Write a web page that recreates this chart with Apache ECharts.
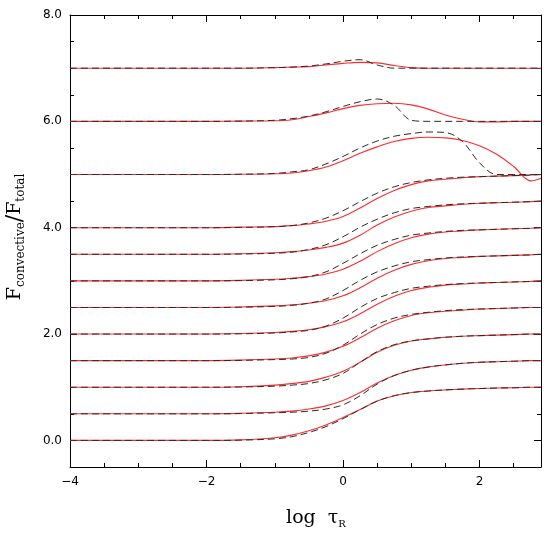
<!DOCTYPE html>
<html>
<head>
<meta charset="utf-8">
<script src="https://cdn.jsdelivr.net/npm/echarts@6/dist/echarts.min.js"></script>
<style>
  html, body { margin: 0; padding: 0; background: #fff; }
  #chart { width: 554px; height: 554px; }
</style>
</head>
<body>
<div id="chart"></div>
<script>
  // log tau_R grid shared by all curves
  var logTau = [-4, -2, -1.5, -1, -0.75, -0.5, -0.25, 0, 0.25, 0.5, 0.75, 1, 1.25, 1.5, 1.75, 2, 2.25, 2.5, 2.75, 2.9]

  // vertical shift of each model curve
  var offsets = [0, 0.5, 1.0, 1.5, 2.0, 2.5, 3.0, 3.5, 4.0, 5.0, 6.0, 7.0]

  // F_conv/F_tot, red solid curves
  var red00 = [0, 0, 0.01, 0.05, 0.10, 0.18, 0.29, 0.43, 0.58, 0.74, 0.84, 0.90, 0.93, 0.95, 0.965, 0.975, 0.985, 0.99, 1.0, 1.0]
  var red05 = [0, 0, 0.01, 0.03, 0.05, 0.09, 0.15, 0.25, 0.40, 0.58, 0.72, 0.82, 0.88, 0.92, 0.95, 0.97, 0.98, 0.99, 1.0, 1.0]
  var red10 = [0, 0, 0.01, 0.04, 0.07, 0.11, 0.19, 0.30, 0.47, 0.66, 0.79, 0.87, 0.91, 0.94, 0.96, 0.97, 0.98, 0.99, 1.0, 1.0]
  var red15 = [0, 0, 0.01, 0.03, 0.05, 0.09, 0.16, 0.27, 0.43, 0.61, 0.75, 0.85, 0.90, 0.93, 0.95, 0.97, 0.98, 0.99, 1.0, 1.0]
  var red20 = [0, 0, 0.01, 0.03, 0.05, 0.08, 0.14, 0.23, 0.38, 0.56, 0.71, 0.82, 0.88, 0.92, 0.94, 0.96, 0.97, 0.98, 0.99, 1.0]
  var red25 = [0, 0, 0.01, 0.03, 0.05, 0.08, 0.13, 0.22, 0.37, 0.55, 0.70, 0.81, 0.88, 0.92, 0.94, 0.96, 0.97, 0.98, 0.99, 1.0]
  var red30 = [0, 0, 0.01, 0.03, 0.05, 0.08, 0.13, 0.22, 0.37, 0.55, 0.70, 0.81, 0.88, 0.92, 0.94, 0.96, 0.97, 0.98, 0.99, 1.0]
  var red35 = [0, 0, 0.01, 0.03, 0.05, 0.08, 0.13, 0.21, 0.36, 0.55, 0.70, 0.81, 0.88, 0.91, 0.94, 0.96, 0.97, 0.98, 0.99, 1.0]
  var red40 = [0, 0, 0.01, 0.02, 0.04, 0.07, 0.12, 0.21, 0.37, 0.55, 0.70, 0.81, 0.88, 0.91, 0.94, 0.96, 0.97, 0.98, 0.99, 1.0]
  var red50 = [0, 0, 0.005, 0.015, 0.03, 0.07, 0.14, 0.26, 0.40, 0.52, 0.62, 0.68, 0.70, 0.69, 0.64, 0.54, 0.38, 0.15, -0.12, -0.07]
  var red60 = [0, 0, 0.005, 0.01, 0.03, 0.09, 0.16, 0.24, 0.30, 0.33, 0.34, 0.31, 0.23, 0.12, 0.04, -0.01, -0.01, 0, 0, 0]
  var red70 = [0, 0, 0, 0.01, 0.02, 0.03, 0.06, 0.09, 0.11, 0.10, 0.05, 0.01, 0, 0, 0, 0, 0, 0, 0, 0]

  // black dashed curves
  var dash00 = [0, 0, 0.005, 0.03, 0.07, 0.15, 0.26, 0.41, 0.58, 0.74, 0.84, 0.90, 0.93, 0.95, 0.965, 0.975, 0.985, 0.99, 1.0, 1.0]
  var dash05 = [0, 0, 0.005, 0.02, 0.03, 0.05, 0.09, 0.17, 0.34, 0.56, 0.72, 0.82, 0.88, 0.92, 0.95, 0.97, 0.98, 0.99, 1.0, 1.0]
  var dash10 = [0, 0, 0.005, 0.02, 0.04, 0.07, 0.14, 0.26, 0.47, 0.67, 0.80, 0.87, 0.91, 0.94, 0.96, 0.97, 0.98, 0.99, 1.0, 1.0]
  var dash15 = [0, 0, 0.005, 0.02, 0.03, 0.06, 0.14, 0.29, 0.50, 0.68, 0.80, 0.87, 0.91, 0.94, 0.96, 0.97, 0.98, 0.99, 1.0, 1.0]
  var dash20 = [0, 0, 0.005, 0.02, 0.04, 0.07, 0.15, 0.30, 0.50, 0.67, 0.78, 0.86, 0.90, 0.93, 0.95, 0.96, 0.97, 0.98, 0.99, 1.0]
  var dash25 = [0, 0, 0.005, 0.02, 0.04, 0.08, 0.16, 0.32, 0.51, 0.67, 0.78, 0.86, 0.90, 0.93, 0.95, 0.96, 0.97, 0.98, 0.99, 1.0]
  var dash30 = [0, 0, 0.005, 0.02, 0.04, 0.08, 0.17, 0.33, 0.51, 0.67, 0.78, 0.86, 0.90, 0.93, 0.95, 0.96, 0.97, 0.98, 0.99, 1.0]
  var dash35 = [0, 0, 0.005, 0.02, 0.04, 0.09, 0.18, 0.33, 0.51, 0.66, 0.78, 0.86, 0.90, 0.93, 0.95, 0.96, 0.97, 0.98, 0.99, 1.0]
  var dash40 = [0, 0, 0.005, 0.02, 0.04, 0.09, 0.18, 0.32, 0.49, 0.65, 0.77, 0.85, 0.90, 0.93, 0.95, 0.96, 0.97, 0.98, 0.99, 1.0]
  var dash50 = [0, 0, 0.005, 0.02, 0.05, 0.09, 0.20, 0.34, 0.50, 0.63, 0.72, 0.77, 0.80, 0.79, 0.62, 0.22, 0, 0, 0, 0]
  var dash60 = [0, 0, 0.005, 0.02, 0.05, 0.10, 0.18, 0.28, 0.37, 0.42, 0.30, 0.02, 0, 0, 0, 0, 0, 0, 0, 0]
  var dash70 = [0, 0, 0, 0.01, 0.02, 0.04, 0.08, 0.13, 0.16, 0.06, 0, 0, 0, 0, 0, 0, 0, 0, 0, 0]

  var redCurves = [red00, red05, red10, red15, red20, red25, red30, red35, red40, red50, red60, red70]
  var dashCurves = [dash00, dash05, dash10, dash15, dash20, dash25, dash30, dash35, dash40, dash50, dash60, dash70]

  var tickFont = "DejaVu Sans"
  var serif = "DejaVu Serif"

  function shifted(vals, off) {
    return logTau.map(function (x, i) {
      return [x, off + vals[i]]
    })
  }

  var series = []
  offsets.forEach(function (off, k) {
    series.push({
      type: "line",
      data: shifted(redCurves[k], off),
      symbol: "none",
      smooth: 0.35,
      silent: true,
      z: 2,
      lineStyle: {color: "#ff2b2b", width: 1.1}
    })
  })
  offsets.forEach(function (off, k) {
    series.push({
      type: "line",
      data: shifted(dashCurves[k], off),
      symbol: "none",
      smooth: 0.35,
      silent: true,
      z: 3,
      lineStyle: {color: "#2a2a2a", width: 1, type: [7, 4]}
    })
  })

  var axisLine = {show: true, onZero: false, lineStyle: {color: "#000", width: 1}}
  var noLine = {show: false, onZero: false}

  function xAx(pos, interval, len, labels, line) {
    return {
      type: "value",
      position: pos,
      min: -4,
      max: 2.9,
      interval: interval,
      splitLine: {show: false},
      axisLine: line ? axisLine : noLine,
      axisTick: {show: true, inside: true, length: len, lineStyle: {color: "#000"}},
      axisLabel: {
        show: labels,
        showMaxLabel: false,
        margin: 9,
        fontFamily: tickFont,
        fontSize: 12,
        color: "#000",
        formatter: function (v) {
          if (Math.abs(v % 2) > 1e-6) return ""
          return v < 0 ? "\u2212" + Math.abs(v) : String(v)
        }
      }
    }
  }

  function yAx(pos, labels) {
    return {
      type: "value",
      position: pos,
      min: -0.5,
      max: 8,
      interval: 0.5,
      splitLine: {show: false},
      axisLine: axisLine,
      axisTick: {show: true, inside: true, length: 4, lineStyle: {color: "#000"}},
      axisLabel: {
        show: labels,
        margin: 8,
        fontFamily: tickFont,
        fontSize: 12,
        color: "#000",
        formatter: function (v) {
          if (Math.abs(v % 2) > 1e-6) return ""
          return v.toFixed(1)
        }
      }
    }
  }

  // long ticks at 8, 6, 4, 2, 0 (inverse axis so ticks count from the top)
  function yMajor(pos) {
    return {
      type: "value",
      position: pos,
      inverse: true,
      min: 0,
      max: 8.5,
      interval: 2,
      splitLine: {show: false},
      axisLine: noLine,
      axisLabel: {show: false},
      axisTick: {show: true, inside: true, length: 7, lineStyle: {color: "#000"}}
    }
  }

  var chart = echarts.init(document.getElementById("chart"))
  chart.setOption({
    animation: false,
    backgroundColor: "#fff",
    grid: {left: 70, top: 15, right: 13, bottom: 87},
    xAxis: [
      xAx("bottom", 0.5, 4, true, true),
      xAx("bottom", 2, 7, false, false),
      xAx("top", 0.5, 4, false, true),
      xAx("top", 2, 7, false, false)
    ],
    yAxis: [yAx("left", true), yMajor("left"), yAx("right", false), yMajor("right")],
    series: series,
    graphic: [
      {
        type: "text",
        x: 15,
        y: 237,
        rotation: Math.PI / 2,
        style: {
          text: "{F|F}{s|convective}{sl|/}{F|F}{s|total}",
          align: "center",
          verticalAlign: "middle",
          fill: "#000",
          rich: {
            F: {fontFamily: serif, fontSize: 19, lineHeight: 24, fill: "#000"},
            sl: {fontFamily: serif, fontSize: 22, lineHeight: 24, fill: "#000"},
            s: {fontFamily: serif, fontSize: 12, lineHeight: 12, verticalAlign: "bottom", fill: "#000"}
          }
        }
      },
      {
        type: "text",
        x: 316,
        y: 518,
        style: {
          text: "{t|log  \u03c4}{s|R}",
          align: "center",
          verticalAlign: "middle",
          fill: "#000",
          rich: {
            t: {fontFamily: serif, fontSize: 19, lineHeight: 22, fill: "#000"},
            s: {fontFamily: serif, fontSize: 10, lineHeight: 10, verticalAlign: "bottom", fill: "#000"}
          }
        }
      }
    ]
  })
</script>
</body>
</html>
